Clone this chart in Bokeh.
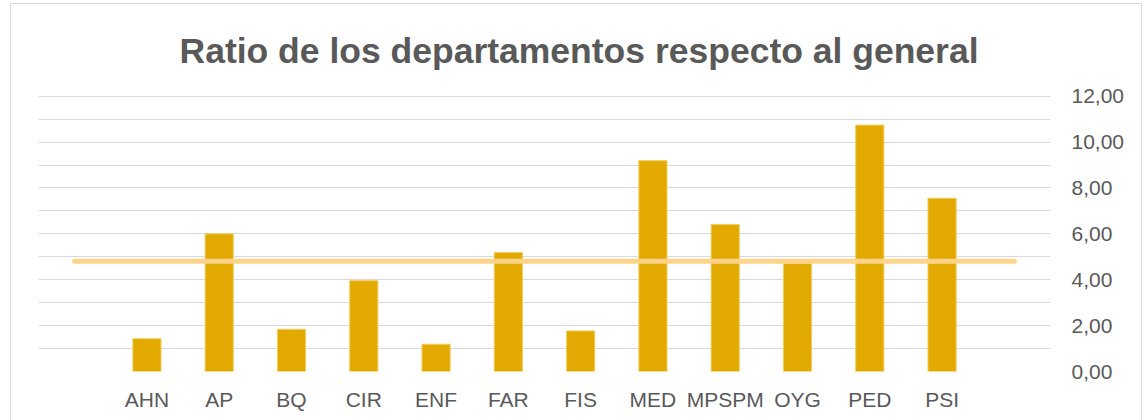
from bokeh.plotting import figure
from bokeh.embed import file_html
from bokeh.resources import INLINE
from bokeh.models import LinearAxis, FixedTicker, CustomJSTickFormatter, Range1d, ColumnDataSource

departments = ["", "AHN", "AP", "BQ", "CIR", "ENF", "FAR", "FIS", "MED", "MPSPM", "OYG", "PED", "PSI", " "]
bar_depts = ["AHN", "AP", "BQ", "CIR", "ENF", "FAR", "FIS", "MED", "MPSPM", "OYG", "PED", "PSI"]
ratios = [1.43, 6.00, 1.84, 3.96, 1.19, 5.19, 1.77, 9.19, 6.41, 4.71, 10.74, 7.55]
general_ratio = 4.81
y_ticks = [0, 2, 4, 6, 8, 10, 12]
y_minor = [0, 1, 2, 3, 4, 5, 6, 7, 8, 9, 10, 11, 12]

FONT = "Liberation Sans"
TXT = "#595959"

p = figure(x_range=departments, y_range=Range1d(0, 12.03), width=1132, height=418,
           output_backend="svg", toolbar_location=None,
           title="Ratio de los departamentos respecto al general",
           min_border_left=27, min_border_right=93, min_border_bottom=51, min_border_top=91)
p.styles = {"border": "1px solid #D9D9D9", "margin-left": "10px", "margin-top": "3px"}

p.title.align = "left"
p.title.vertical_align = "top"
p.title.offset = 141
p.title.standoff = 46
p.title.text_font = FONT
p.title.text_font_size = "35.5px"
p.title.text_font_style = "bold"
p.title.text_color = TXT

src = ColumnDataSource(dict(x=bar_depts, top=ratios))
p.vbar(x="x", top="top", width=0.39, source=src, fill_color="#E2AA00",
       line_color="#F0CF63", line_width=1)

p.line(x=[departments[0], departments[-1]], y=[general_ratio, general_ratio],
       line_color="#FFD38A", line_width=5, line_cap="round")

p.yaxis.visible = False
ax = LinearAxis(ticker=FixedTicker(ticks=y_ticks, minor_ticks=y_minor),
                formatter=CustomJSTickFormatter(code="return tick.toFixed(2).replace('.', ',');"))
ax.axis_line_color = None
ax.major_tick_line_color = None
ax.minor_tick_line_color = None
ax.major_label_text_font = FONT
ax.major_label_text_font_size = "21px"
ax.major_label_text_color = TXT
ax.major_label_standoff = 15
p.add_layout(ax, "right")

p.ygrid.ticker = FixedTicker(ticks=y_ticks, minor_ticks=y_minor)
p.ygrid.grid_line_color = "#D9D9D9"
p.ygrid.minor_grid_line_color = "#D9D9D9"
p.xgrid.grid_line_color = None

p.xaxis.axis_line_color = None
p.xaxis.major_tick_line_color = None
p.xaxis.minor_tick_line_color = None
p.xaxis.major_label_text_font = FONT
p.xaxis.major_label_text_font_size = "21px"
p.xaxis.major_label_text_color = TXT
p.xaxis.major_label_standoff = 10

p.outline_line_color = None
p.background_fill_color = "white"
p.border_fill_color = "white"

open("out.html", "w").write(file_html(p, INLINE))
